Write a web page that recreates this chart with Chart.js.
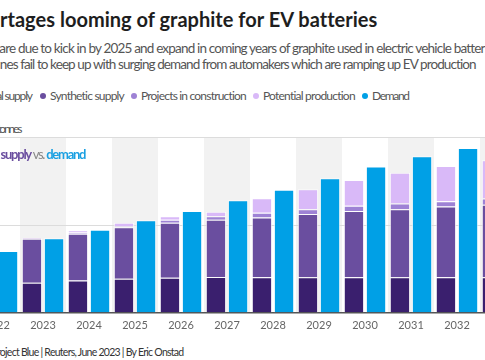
<!DOCTYPE html>
<html>
<head>
<meta charset="utf-8">
<script src="https://cdn.jsdelivr.net/npm/chart.js@4.4.1/dist/chart.umd.min.js"></script>
<style>
  html, body { margin:0; padding:0; background:#fff; width:485px; height:360px; overflow:hidden; }
  #stage { position:relative; width:485px; height:360px; overflow:hidden; font-family: Lato, "Noto Sans", sans-serif; }
  .t { position:absolute; white-space:nowrap; }
  .dot { position:absolute; border-radius:50%; }
  #wrap { position:absolute; left:-60px; top:110px; width:620px; height:230px; }
</style>
</head>
<body>
<div id="stage">
  <div id="wrap"><canvas id="c"></canvas></div>
</div>
<script>
// ---------- data ----------
const years = ["2022","2023","2024","2025","2026","2027","2028","2029","2030","2031","2032","2033"];
const naturalSupply   = [0.66, 0.69, 0.74, 0.78, 0.80, 0.82, 0.81, 0.81, 0.81, 0.81, 0.81, 0.81];
const syntheticSupply = [0.92, 1.00, 1.06, 1.17, 1.25, 1.30, 1.36, 1.44, 1.51, 1.55, 1.61, 1.65];
const projectsConstr  = [0.00, 0.00, 0.03, 0.02, 0.07, 0.08, 0.11, 0.11, 0.12, 0.13, 0.12, 0.14];
const potentialProd   = [0.00, 0.02, 0.05, 0.08, 0.08, 0.10, 0.33, 0.45, 0.58, 0.70, 0.80, 0.87];
const demand          = [1.41, 1.70, 1.89, 2.11, 2.32, 2.56, 2.80, 3.06, 3.33, 3.56, 3.75, 3.95];
const yTicks = [0, 2, 4];

const seriesNames = ["Natural supply","Synthetic supply","Projects in construction","Potential production","Demand"];
const colors = ["#3a1f6e","#6a4e9f","#9e82d5","#d9b9f8","#00a0e6"];

// target placement of the plot area in the page
const AREA = { left:-26, right:526, top:137, bottom:313 };

// ---------- text helpers ----------
const stage = document.getElementById('stage');
const mctx = document.createElement('canvas').getContext('2d');
function place(prefix, anchor, suffix, x0, x1, top, size, weight, color) {
  const font = `${weight} ${size}px Lato, "Noto Sans", sans-serif`;
  mctx.font = font;
  const wa = mctx.measureText(anchor).width;
  const ls = (x1 - x0 - wa) / Math.max(1, anchor.length - 1);
  const wp = mctx.measureText(prefix).width + ls * prefix.length;
  const el = document.createElement('div');
  el.className = 't';
  el.style.font = font;
  el.style.lineHeight = size + 'px';
  el.style.letterSpacing = ls.toFixed(3) + 'px';
  el.style.left = (x0 - wp).toFixed(2) + 'px';
  el.style.top = top + 'px';
  el.style.color = color;
  el.textContent = prefix + anchor + suffix;
  stage.appendChild(el);
  return el;
}

// title
place("Sho", "rtages looming of graphite for EV batteries", "", 0, 378, 9, 20, 700, "#1e1e1e");
// subtitle
place("Supplies of natural and synthetic graphite and new projects that ",
      "are due to kick in by 2025 and expand in coming years of graphite used in electric vehicle batter",
      "ies will at times", 0, 487, 42, 13.5, 400, "#555");
place("will at times ", "nes fail to keep up with surging demand from automakers which are ramping up EV production", "",
      0, 478, 57.5, 13.5, 400, "#555");

// legend
(function(){
  const items = [
    {pre:"Natura", name:"l supply", start:1, end:33, dot:false},
    {pre:"", name:"Synthetic supply", start:50, end:125, dot:true},
    {pre:"", name:"Projects in construction", start:141, end:247, dot:true},
    {pre:"", name:"Potential production", start:263, end:356, dot:true},
    {pre:"", name:"Demand", start:372, end:410, dot:true}
  ];
  items.forEach((it, i) => {
    place(it.pre, it.name, "", it.start, it.end, 89.5, 12, 400, "#555");
    if (it.dot) {
      const d = document.createElement('div');
      d.className = 'dot';
      d.style.width = '6px'; d.style.height = '6px';
      d.style.left = (it.start - 10) + 'px'; d.style.top = '93px';
      d.style.background = colors[i];
      stage.appendChild(d);
    }
  });
})();

// unit label
place("Million to", "nnes", "", 4, 22.5, 123, 12, 400, "#555");

// annotation
(function(){
  const size = 13;
  const font = `700 ${size}px Lato, "Noto Sans", sans-serif`;
  mctx.font = font;
  const wa = mctx.measureText("supply vs. demand").width;
  const ls = (87 - 0.5 - wa) / 16;
  const wp = mctx.measureText("Graphite ").width + ls * 9;
  const el = document.createElement('div');
  el.className = 't';
  el.style.font = font; el.style.lineHeight = size + 'px';
  el.style.letterSpacing = ls.toFixed(3) + 'px';
  el.style.left = (0.5 - wp).toFixed(2) + 'px';
  el.style.top = '148px';
  el.innerHTML = '<span style="color:#6a4e9f">Graphite supply</span> <span style="color:#888;font-weight:400">vs.</span> <span style="color:#1ba0e2">demand</span>';
  stage.appendChild(el);
})();

// source
place("Source: Pr", "oject Blue | Reuters, June 2023 | By Eric Onstad", "", 0, 185, 346.5, 10.5, 400, "#333");

// ---------- chart ----------
const bandPlugin = {
  id: 'bands',
  beforeDraw(chart) {
    const {ctx, chartArea, scales} = chart;
    const xs = scales.x;
    const w = (chartArea.right - chartArea.left) / years.length;
    ctx.save();
    ctx.fillStyle = '#f2f2f2';
    years.forEach((y, i) => {
      if (parseInt(y) % 2 === 1) {
        const cx = xs.getPixelForValue(i);
        ctx.fillRect(cx - w/2, chartArea.top, w, chartArea.bottom - chartArea.top);
      }
    });
    ctx.restore();
  }
};

const supplyArrays = [naturalSupply, syntheticSupply, projectsConstr, potentialProd];
const datasets = supplyArrays.map((arr, i) => ({
  label: seriesNames[i], data: arr, stack: 'supply',
  backgroundColor: colors[i], borderColor: 'rgba(255,255,255,0.75)', borderWidth: {top:1, left:1, right:1, bottom:0},
  borderSkipped: false,
  categoryPercentage: 0.96, barPercentage: 0.92
}));
datasets.push({
  label: seriesNames[4], data: demand, stack: 'demand',
  backgroundColor: colors[4], borderColor: 'rgba(255,255,255,0.75)', borderWidth: {top:1, left:1, right:1, bottom:0},
  borderSkipped: false,
  categoryPercentage: 0.96, barPercentage: 0.92
});

const chart = new Chart(document.getElementById('c'), {
  type: 'bar',
  data: { labels: years, datasets },
  plugins: [bandPlugin],
  options: {
    responsive: true, maintainAspectRatio: false, animation: false,
    devicePixelRatio: 1,
    layout: { padding: 0 },
    plugins: { legend: { display:false }, tooltip: { enabled:false } },
    scales: {
      x: {
        stacked: true,
        grid: { display:false, drawTicks:false },
        border: { display:false },
        ticks: { color:'#666', font:{ family:'Lato, "Noto Sans", sans-serif', size:11 }, padding: 6, maxRotation:0, autoSkip:false }
      },
      y: {
        stacked: true, min: 0, max: 4,
        afterBuildTicks(scale) { scale.ticks = yTicks.map(v => ({value:v})); },
        grid: {
          drawTicks:false,
          color: (c) => c.tick && c.tick.value === 0 ? '#555' : '#dcdcdc',
          lineWidth: (c) => c.tick && c.tick.value === 0 ? 1.5 : (c.tick && c.tick.value === 4 ? 2 : 1)
        },
        border: { display:false },
        ticks: { display:false }
      }
    }
  }
});

// align plot area to target
(function align(){
  const wrap = document.getElementById('wrap');
  for (let k = 0; k < 2; k++) {
    const a = chart.chartArea;
    const dw = (AREA.right - AREA.left) - (a.right - a.left);
    const dh = (AREA.bottom - AREA.top) - (a.bottom - a.top);
    wrap.style.width = (wrap.offsetWidth + dw) + 'px';
    wrap.style.height = (wrap.offsetHeight + dh) + 'px';
    chart.resize();
  }
  const a = chart.chartArea;
  wrap.style.left = (AREA.left - a.left) + 'px';
  wrap.style.top = (AREA.top - a.top) + 'px';
})();
</script>
</body>
</html>
